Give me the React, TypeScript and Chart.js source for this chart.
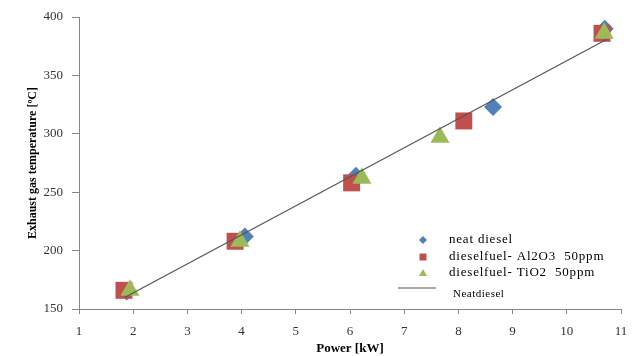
import React, { useEffect, useRef } from 'react';
import { Chart, registerables } from 'chart.js';

Chart.register(...registerables);

// Data
const neatPower = [1.88, 4.06, 6.11, 8.64, 10.7];
const neatTemp = [165, 212, 264, 323, 390];
const al2o3Power = [1.83, 3.88, 6.03, 8.1, 10.65];
const al2o3Temp = [166, 208, 258, 311, 386];
const tio2Power = [1.94, 3.97, 6.22, 7.66, 10.69];
const tio2Temp = [166, 208, 262, 297, 386];
const fitPower = [1.85, 10.74];
const fitTemp = [160, 381];

const seriesNames = [
  'neat diesel',
  'dieselfuel- Al2O3  50ppm',
  'dieselfuel- TiO2  50ppm',
  'Neatdiesel',
];
const xTitle = 'Power [kW]';
const yTitle = 'Exhaust gas temperature [ºC]';

const BLUE = '#4F81BD';
const RED = '#C0504D';
const GREEN = '#9BBB59';
const LINE = '#555555';
const AXIS = '#868686';
const SERIF = '"Liberation Serif", "Times New Roman", serif';

const toPoints = (xs: number[], ys: number[]) => xs.map((x, i) => ({ x, y: ys[i] }));

const legendPlugin = {
  id: 'customLegend',
  afterDraw(chart: any) {
    const { ctx, chartArea } = chart;
    const mx = chartArea.right - 198;
    const tx = chartArea.right - 172;
    const b = chartArea.bottom;
    const rows = [b - 69, b - 52, b - 36];
    ctx.save();
    ctx.font = `13px ${SERIF}`;
    try { (ctx as any).letterSpacing = '0.8px'; } catch (e) { /* ignore */ }
    ctx.textBaseline = 'middle';
    ctx.textAlign = 'left';
    // diamond
    ctx.fillStyle = BLUE;
    ctx.beginPath();
    ctx.moveTo(mx - 4, rows[0]);
    ctx.lineTo(mx, rows[0] - 4);
    ctx.lineTo(mx + 4, rows[0]);
    ctx.lineTo(mx, rows[0] + 4);
    ctx.closePath();
    ctx.fill();
    // square
    ctx.fillStyle = RED;
    ctx.fillRect(mx - 3.5, rows[1] - 3.5, 7, 7);
    // triangle
    ctx.fillStyle = GREEN;
    ctx.beginPath();
    ctx.moveTo(mx, rows[2] - 4);
    ctx.lineTo(mx + 4, rows[2] + 3);
    ctx.lineTo(mx - 4, rows[2] + 3);
    ctx.closePath();
    ctx.fill();
    ctx.fillStyle = '#000';
    ctx.fillText(seriesNames[0], tx, rows[0]);
    ctx.fillText(seriesNames[1], tx, rows[1]);
    ctx.fillText(seriesNames[2], tx, rows[2]);
    // line entry
    const ly = b - 21;
    ctx.strokeStyle = LINE;
    ctx.lineWidth = 1.2;
    ctx.beginPath();
    ctx.moveTo(chartArea.right - 223, ly);
    ctx.lineTo(chartArea.right - 185, ly);
    ctx.stroke();
    ctx.font = `11px ${SERIF}`;
    try { (ctx as any).letterSpacing = '0.5px'; } catch (e) { /* ignore */ }
    ctx.fillText(seriesNames[3], chartArea.right - 168, ly + 6);
    ctx.restore();
  },
};

export default function App() {
  const canvasRef = useRef<HTMLCanvasElement | null>(null);

  useEffect(() => {
    if (!canvasRef.current) return;
    const chart = new Chart(canvasRef.current, {
      type: 'scatter',
      data: {
        datasets: [
          {
            label: seriesNames[3],
            data: toPoints(fitPower, fitTemp),
            showLine: true,
            borderColor: LINE,
            borderWidth: 1.2,
            pointRadius: 0,
            pointHoverRadius: 0,
            order: 0,
          },
          {
            label: seriesNames[2],
            data: toPoints(tio2Power, tio2Temp),
            pointStyle: 'triangle',
            pointRadius: 11,
            backgroundColor: GREEN,
            borderColor: GREEN,
            borderWidth: 0,
            order: 1,
          },
          {
            label: seriesNames[1],
            data: toPoints(al2o3Power, al2o3Temp),
            pointStyle: 'rect',
            pointRadius: 12,
            backgroundColor: RED,
            borderColor: RED,
            borderWidth: 0,
            order: 2,
          },
          {
            label: seriesNames[0],
            data: toPoints(neatPower, neatTemp),
            pointStyle: 'rectRot',
            pointRadius: 9,
            backgroundColor: BLUE,
            borderColor: BLUE,
            borderWidth: 0,
            order: 3,
          },
        ],
      },
      options: {
        animation: false,
        responsive: false,
        devicePixelRatio: 1,
        layout: { padding: { top: 17, right: 19, left: 0, bottom: 0 } },
        plugins: {
          legend: { display: false },
          tooltip: { enabled: false },
        },
        scales: {
          x: {
            type: 'linear',
            min: 1,
            max: 11,
            afterFit: (s: any) => {
              s.height = 47;
            },
            ticks: {
              stepSize: 1,
              padding: 10,
              color: '#333',
              font: { family: SERIF, size: 13 },
            },
            grid: {
              drawOnChartArea: false,
              drawTicks: true,
              tickLength: 5,
              color: AXIS,
            },
            border: { display: true, color: AXIS, width: 1 },
            title: {
              display: true,
              text: xTitle,
              color: '#000',
              font: { family: SERIF, size: 13, weight: 'bold' },
              padding: { top: 0, bottom: 0 },
            },
          },
          y: {
            type: 'linear',
            min: 150,
            max: 400,
            afterFit: (s: any) => {
              s.width = 79;
            },
            ticks: {
              stepSize: 50,
              padding: 9,
              color: '#333',
              font: { family: SERIF, size: 13 },
            },
            grid: {
              drawOnChartArea: false,
              drawTicks: true,
              tickLength: 7,
              color: AXIS,
            },
            border: { display: true, color: AXIS, width: 1 },
            title: {
              display: true,
              text: yTitle,
              color: '#000',
              font: { family: SERIF, size: 12, weight: 'bold' },
              padding: { top: 26, bottom: 0 },
            },
          },
        },
      },
      plugins: [legendPlugin],
    } as any);
    return () => chart.destroy();
  }, []);

  return (
    <div style={{ position: 'absolute', left: 0, top: 0, width: 640, height: 356, background: '#fff' }}>
      <canvas ref={canvasRef} width={640} height={356} />
    </div>
  );
}
